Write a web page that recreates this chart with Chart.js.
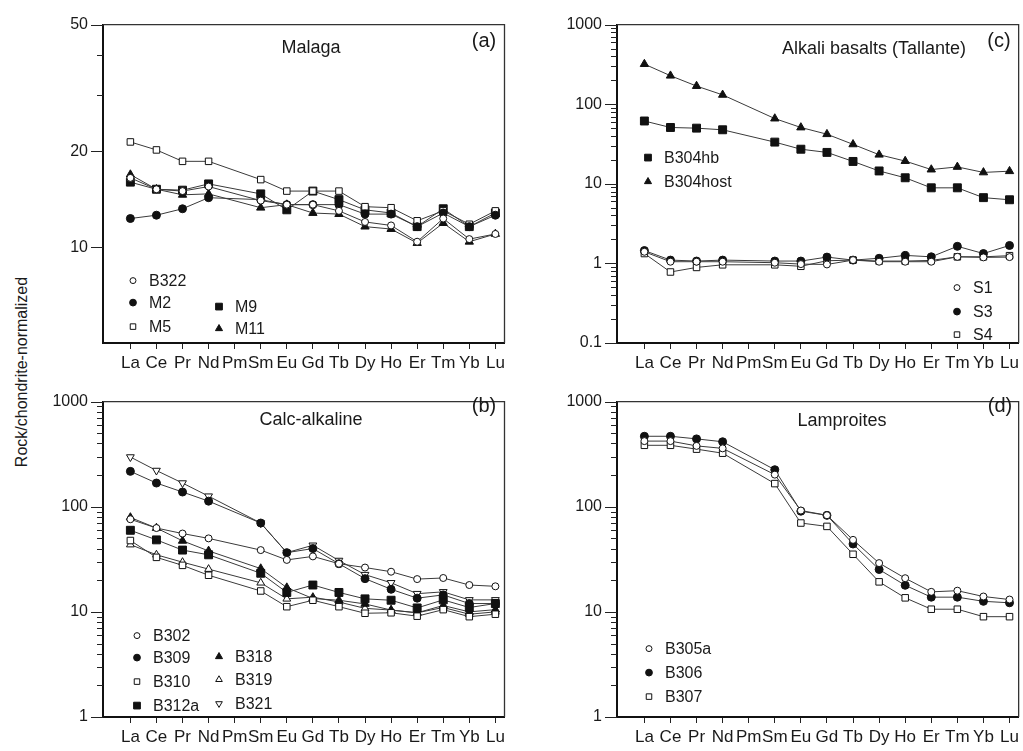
<!DOCTYPE html>
<html>
<head>
<meta charset="utf-8">
<script src="https://cdn.jsdelivr.net/npm/chart.js@4.4.0/dist/chart.umd.min.js"></script>
<style>
  body { margin:0; background:#fff; width:1023px; height:751px; overflow:hidden; position:relative;
         font-family:"Liberation Sans", Arial, sans-serif; color:#1a1a1a; }
  canvas { position:absolute; }
  .t { position:absolute; font-size:18px; white-space:nowrap; transform:translate(-50%,-50%); }
  .lt { font-size:20px; }
  .ytitle { position:absolute; left:22px; top:372px; font-size:16px; white-space:nowrap;
            transform:translate(-50%,-50%) rotate(-90deg); }
</style>
</head>
<body>
<canvas id="pa"></canvas>
<canvas id="pb"></canvas>
<canvas id="pc"></canvas>
<canvas id="pd"></canvas>

<div class="t" style="left:311px;top:47px">Malaga</div>
<div class="t lt" style="left:484px;top:40px">(a)</div>
<div class="t" style="left:311px;top:419px">Calc-alkaline</div>
<div class="t lt" style="left:484px;top:405px">(b)</div>
<div class="t" style="left:874px;top:48px">Alkali basalts (Tallante)</div>
<div class="t lt" style="left:999px;top:40px">(c)</div>
<div class="t" style="left:842px;top:420px">Lamproites</div>
<div class="t lt" style="left:1000px;top:405px">(d)</div>
<div class="ytitle">Rock/chondrite-normalized</div>

<script>
"use strict";

// elementos REE (Pm sin dato)
const elems = ["La","Ce","Pr","Nd","Pm","Sm","Eu","Gd","Tb","Dy","Ho","Er","Tm","Yb","Lu"];

// (a) Malaga
const b322 = [16.5, 15.2, 15.0, 15.5, null, 14.0, 13.6, 13.6, 13.0, 12.0, 11.7, 10.4, 12.3, 10.6, 11.0];
const m2   = [12.3, 12.6, 13.2, 14.3, null, 14.1, 13.6, 13.6, 13.6, 12.7, 12.7, 11.6, 12.8, 11.6, 12.6];
const m5   = [21.4, 20.2, 18.6, 18.6, null, 16.3, 15.0, 15.0, 15.0, 13.4, 13.3, 12.1, 13.0, 11.8, 13.0];
const m9   = [16.0, 15.2, 15.1, 15.8, null, 14.7, 13.1, 15.0, 14.1, 13.1, 12.8, 11.6, 13.2, 11.6, 12.8];
const m11  = [16.9, 15.2, 14.6, 14.7, null, 13.3, 13.6, 12.8, 12.7, 11.6, 11.4, 10.3, 11.9, 10.4, 11.0];

// (b) Calc-alkaline
const b302  = [76, 62.7, 55.6, 50, null, 38.7, 31.2, 33.7, 28.7, 26.4, 24.1, 20.5, 21, 18, 17.5];
const b309  = [217, 168, 138, 113, null, 70, 36.6, 40, 28.7, 20.7, 16.4, 13.5, 14.5, 12, 12];
const b310  = [47.7, 33, 27.7, 22.3, null, 15.8, 11.2, 12.9, 11.2, 9.7, 9.8, 9.1, 10.5, 9, 9.5];
const b312a = [59.7, 48.4, 38.7, 34.9, null, 23.3, 15.3, 18.0, 15.3, 13.3, 12.9, 10.9, 13, 11, 12];
const b318  = [79, 62.7, 47.4, 38, null, 25.8, 17, 13.4, 12.9, 11.9, 10.4, 9.8, 11.5, 10, 10.5];
const b319  = [43.6, 34.9, 29.7, 25.5, null, 18.9, 13.3, 13.8, 12.4, 10.8, 10.4, 9.8, 11, 9.5, 10];
const b321  = [297, 221, 168, 126, null, 70, 36.6, 43, 30.8, 22.6, 18.9, 14.9, 15.5, 13, 13];

// (c) Alkali basalts (Tallante)
const b304hb   = [61.5, 51, 50, 47.7, null, 33.4, 27.2, 24.8, 19.1, 14.5, 11.9, 8.9, 8.9, 6.7, 6.3];
const b304host = [319, 228, 169, 131, null, 66, 51, 42, 31.3, 23.2, 19.3, 15.1, 16.3, 13.9, 14.4];
const s1 = [1.40, 1.05, 1.05, 1.05, null, 1.02, 0.98, 0.97, 1.10, 1.05, 1.05, 1.05, 1.21, 1.19, 1.20];
const s3 = [1.45, 1.10, 1.07, 1.10, null, 1.07, 1.07, 1.20, 1.10, 1.16, 1.26, 1.21, 1.64, 1.33, 1.68];
const s4 = [1.33, 0.78, 0.89, 0.96, null, 0.96, 0.92, 1.08, 1.10, 1.07, 1.07, 1.09, 1.21, 1.21, 1.25];

// (d) Lamproites
const b305a = [421, 421, 379, 359, null, 202, 92, 83, 48.4, 29.1, 20.9, 15.5, 15.9, 14.0, 13.1];
const b306  = [468, 468, 442, 415, null, 225, 90.7, 82.8, 44.2, 25.3, 17.9, 13.8, 13.8, 12.6, 12.2];
const b307  = [384, 384, 353, 323, null, 166, 70, 65, 35.3, 19.3, 13.6, 10.6, 10.6, 9.0, 9.0];

// ticks de cada eje y
const ticksA = [50, 20, 10];
const ticksBD = [1000, 100, 10, 1];
const ticksC = [1000, 100, 10, 1, 0.1];

// estilos de marcador
const MK = {
  oc:  { pointStyle: "circle",   fill: false, r: 3.5, rot: 0 },
  fc:  { pointStyle: "circle",   fill: true,  r: 4,   rot: 0 },
  os:  { pointStyle: "rect",     fill: false, r: 4.6, rot: 0 },
  fs:  { pointStyle: "rect",     fill: true,  r: 5.6, rot: 0 },
  ft:  { pointStyle: "triangle", fill: true,  r: 4.8, rot: 0 },
  ot:  { pointStyle: "triangle", fill: false, r: 4.5, rot: 0 },
  otd: { pointStyle: "triangle", fill: false, r: 4.5, rot: 180 }
};

function minorTicks(min, max) {
  let out = [];
  for (let d = min; d < max; d *= 10) {
    for (let k = 2; k <= 9; k++) {
      let v = d * k;
      if (v > min && v < max) out.push(v);
    }
  }
  return out;
}

const boxPlugin = {
  id: "boxPlugin",
  afterDraw(chart, args, opts) {
    const ctx = chart.ctx;
    const a = chart.chartArea;
    const ys = chart.scales.y;
    ctx.save();
    // marco superior y derecho
    ctx.strokeStyle = "#333";
    ctx.lineWidth = 1.3;
    ctx.beginPath();
    ctx.moveTo(a.left, a.top);
    ctx.lineTo(a.right, a.top);
    ctx.lineTo(a.right, a.bottom);
    ctx.stroke();
    // ticks del eje y
    ctx.strokeStyle = "#222";
    ctx.lineWidth = 1;
    opts.major.forEach(v => {
      const y = Math.round(ys.getPixelForValue(v)) + 0.5;
      ctx.beginPath(); ctx.moveTo(a.left - 12, y); ctx.lineTo(a.left, y); ctx.stroke();
    });
    opts.minor.forEach(v => {
      const y = Math.round(ys.getPixelForValue(v)) + 0.5;
      ctx.beginPath(); ctx.moveTo(a.left - 6, y); ctx.lineTo(a.left, y); ctx.stroke();
    });
    // leyenda
    ctx.font = "16px 'Liberation Sans', Arial, sans-serif";
    ctx.textBaseline = "middle";
    ctx.textAlign = "left";
    opts.legend.forEach(it => {
      const m = MK[it.mk];
      const x = a.left + it.dx, y = a.top + it.dy;
      ctx.fillStyle = m.fill ? "#111" : "#fff";
      ctx.strokeStyle = "#111";
      ctx.lineWidth = 1;
      Chart.helpers.drawPoint(ctx, { pointStyle: m.pointStyle, rotation: m.rot, radius: m.r * 0.85, borderWidth: 1 }, x, y);
      ctx.fillStyle = "#1a1a1a";
      ctx.fillText(it.label, x + 16, y + 1);
    });
    ctx.restore();
  }
};

function serie(label, vals, mk) {
  const m = MK[mk];
  return {
    label: label,
    data: vals.map((v, i) => ({ x: i, y: v })),
    borderColor: "#3a3a3a",
    borderWidth: 1,
    pointStyle: m.pointStyle,
    pointRotation: m.rot,
    pointRadius: m.r,
    pointHoverRadius: m.r,
    pointBackgroundColor: m.fill ? "#111" : "#fff",
    pointBorderColor: "#111",
    pointBorderWidth: 1,
    spanGaps: true,
    tension: 0
  };
}

function panel(id, pos, datasets, ymin, ymax, yticks, minor, legend) {
  const cv = document.getElementById(id);
  cv.width = pos.w; cv.height = pos.h;
  cv.style.left = pos.left + "px"; cv.style.top = pos.top + "px";
  new Chart(cv.getContext("2d"), {
    type: "line",
    data: { datasets: datasets },
    options: {
      responsive: false,
      animation: false,
      events: [],
      layout: { autoPadding: false, padding: { top: pos.padTop, right: pos.padRight, left: 0, bottom: 0 } },
      plugins: {
        legend: { display: false },
        tooltip: { enabled: false },
        boxPlugin: { major: yticks, minor: minor, legend: legend }
      },
      scales: {
        x: {
          type: "linear",
          min: -1.05,
          max: 14.35,
          afterBuildTicks: s => { s.ticks = elems.map((e, i) => ({ value: i })); },
          afterFit: s => { s.height = pos.axisH; },
          ticks: {
            autoSkip: false, maxRotation: 0, minRotation: 0, padding: 4,
            color: "#1a1a1a", font: { size: 17 },
            callback: (v, i) => elems[i]
          },
          grid: { display: true, drawOnChartArea: false, drawTicks: true, tickLength: 6, color: "#222", lineWidth: 1 },
          border: { display: true, color: "#111", width: 2 }
        },
        y: {
          type: "logarithmic",
          min: ymin,
          max: ymax,
          afterBuildTicks: s => { s.ticks = yticks.map(v => ({ value: v })); },
          afterFit: s => { s.width = 60; },
          ticks: {
            padding: 15, color: "#1a1a1a", font: { size: 16 },
            callback: v => String(v)
          },
          grid: { display: false, drawTicks: false },
          border: { display: true, color: "#111", width: 2 }
        }
      }
    },
    plugins: [boxPlugin]
  });
}

Chart.defaults.font.family = "'Liberation Sans', Arial, sans-serif";

panel("pa", { left: 43, top: 0, w: 466, h: 373, padTop: 15, padRight: 4.5, axisH: 30 },
  [serie("B322", b322, "oc"), serie("M2", m2, "fc"), serie("M5", m5, "os"),
   serie("M9", m9, "fs"), serie("M11", m11, "ft")],
  5, 50, ticksA, [40, 30],
  [{ label: "B322", mk: "oc", dx: 30, dy: 256 }, { label: "M2", mk: "fc", dx: 30, dy: 278 },
   { label: "M5", mk: "os", dx: 30, dy: 302 }, { label: "M9", mk: "fs", dx: 116, dy: 282 },
   { label: "M11", mk: "ft", dx: 116, dy: 304 }]);

panel("pb", { left: 43, top: 377, w: 466, h: 374, padTop: 10, padRight: 4.5, axisH: 34 },
  [serie("B302", b302, "oc"), serie("B309", b309, "fc"), serie("B310", b310, "os"),
   serie("B312a", b312a, "fs"), serie("B318", b318, "ft"), serie("B319", b319, "ot"),
   serie("B321", b321, "otd")],
  1, 1000, ticksBD, minorTicks(1, 1000),
  [{ label: "B302", mk: "oc", dx: 34, dy: 234 }, { label: "B309", mk: "fc", dx: 34, dy: 256 },
   { label: "B310", mk: "os", dx: 34, dy: 280 }, { label: "B312a", mk: "fs", dx: 34, dy: 304 },
   { label: "B318", mk: "ft", dx: 116, dy: 255 }, { label: "B319", mk: "ot", dx: 116, dy: 278 },
   { label: "B321", mk: "otd", dx: 116, dy: 302 }]);

panel("pc", { left: 557, top: 0, w: 466, h: 373, padTop: 15, padRight: 1.2, axisH: 30 },
  [serie("B304hb", b304hb, "fs"), serie("B304host", b304host, "ft"),
   serie("S1", s1, "oc"), serie("S3", s3, "fc"), serie("S4", s4, "os")],
  0.1, 1000, ticksC, minorTicks(0.1, 1000),
  [{ label: "B304hb", mk: "fs", dx: 31, dy: 133 }, { label: "B304host", mk: "ft", dx: 31, dy: 157 },
   { label: "S1", mk: "oc", dx: 340, dy: 263 }, { label: "S3", mk: "fc", dx: 340, dy: 287 },
   { label: "S4", mk: "os", dx: 340, dy: 310 }]);

panel("pd", { left: 557, top: 377, w: 466, h: 374, padTop: 10, padRight: 1.2, axisH: 34 },
  [serie("B305a", b305a, "oc"), serie("B306", b306, "fc"), serie("B307", b307, "os")],
  1, 1000, ticksBD, minorTicks(1, 1000),
  [{ label: "B305a", mk: "oc", dx: 32, dy: 247 }, { label: "B306", mk: "fc", dx: 32, dy: 271 },
   { label: "B307", mk: "os", dx: 32, dy: 295 }]);
</script>
</body>
</html>
